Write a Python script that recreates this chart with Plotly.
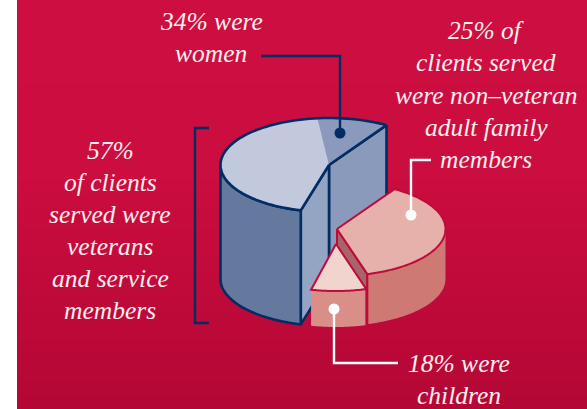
import numpy as np
import plotly.graph_objects as go

# --- data ---
groups = ["Veterans and service members", "Non-veteran adult family members", "Children"]
percent_served = [57, 25, 18]          # drives the extruded height of each piece
drawn_share = [54.7, 36.6, 8.2]        # share of the circle each piece is drawn with
women_drawn_share = 10.6               # tinted part of the veterans piece
text_blocks = [
    (211, [(21, "34% were"), (53, "women")]),
    (486, [(30, "25% of"), (62, "clients served"), (95, "were non–veteran"),
           (127, "adult family"), (159, "members")]),
    (110, [(150, "57%"), (182, "of clients"), (214, "served were"), (246, "veterans"),
           (278, "and service"), (310, "members")]),
    (459, [(363, "18% were"), (395, "children")]),
]

# --- geometry / style ---
W, H = 587, 409
RX, RY = 108.5, 47
BASE_Y = 279
HEIGHT_PER_PCT = 2.0
START_DEG = 58
NAVY = "#012c64"
CRIMSON = "#bf0a3c"
FONT = "Liberation Serif"


def arc(cx, cy, t0, t1, n=80):
    t = np.radians(np.linspace(t0, t1, n))
    return cx + RX * np.cos(t), cy - RY * np.sin(t)


fig = go.Figure()

# page background with its soft vertical gradient
edges = np.linspace(0, H, 60)
centres = (edges[:-1] + edges[1:]) / 2
fig.add_trace(go.Heatmap(
    x=[17, W], y=edges, z=[[v] for v in centres], showscale=False, hoverinfo="skip",
    zmin=0, zmax=H,
    colorscale=[[0, "#cd0e40"], [0.42, "#cb0d3f"], [1, "#b40735"]],
))


def poly(xs, ys, fill=None, color=None, width=0):
    fig.add_trace(go.Scatter(
        x=list(xs), y=list(ys), mode="lines", hoverinfo="skip",
        fill="toself" if fill else "none", fillcolor=fill,
        line=dict(color=color or "rgba(0,0,0,0)", width=width, simplify=False),
    ))


def line(xs, ys, color, width=2.4):
    poly(xs, ys, None, color, width)


def dot(x, y, color, size=11):
    fig.add_trace(go.Scatter(x=[x], y=[y], mode="markers", hoverinfo="skip",
                             marker=dict(color=color, size=size, line=dict(width=0))))


def side(cx, top, h, t0, t1):
    ax, ay = arc(cx, top, t0, t1)
    return np.r_[ax, ax[::-1], ax[0]], np.r_[ay, ay[::-1] + h, ay[0]]


# angles of the three pieces
spans = [s * 3.6 for s in drawn_share]
a0 = START_DEG
a1 = a0 + spans[0]            # veterans: a0 -> a1
a3 = a0 + 360                 # family ends where veterans start
a2 = a3 - spans[1]            # family:   a2 -> a3
ac = a2 - spans[2]            # children: ac -> a2
am = a0 + women_drawn_share * 3.6

heights = [p * HEIGHT_PER_PCT for p in percent_served]

# ---- veterans piece ----
cx, h = 329, heights[0]
top = BASE_Y - h
ex0, ey0 = arc(cx, top, a0, a0, 1)
ex1, ey1 = arc(cx, top, a1, a1, 1)
# back inner face
poly([cx, ex0[0], ex0[0], cx, cx], [top, ey0[0], ey0[0] + h, top + h, top], "#8a9abb", NAVY, 2.6)
# front inner face
poly([ex1[0], cx, cx, ex1[0], ex1[0]], [ey1[0], top, top + h, ey1[0] + h, ey1[0]], "#94a5c4", NAVY, 2.6)
# outer side
sx, sy = side(cx, top, h, 180, a1)
poly(sx, sy, "#65799f", NAVY, 2.6)
# top
tx, ty = arc(cx, top, a0, a1)
poly(np.r_[cx, tx, cx], np.r_[top, ty, top], "#c3c9dd", None, 0)
mx, my = arc(cx, top, a0, am, 30)
poly(np.r_[cx, mx, cx], np.r_[top, my, top], "#8b99bc", None, 0)
line(np.r_[cx, tx, cx], np.r_[top, ty, top], NAVY, 2.6)

# ---- family piece ----
cx, h = 337, heights[1]
top = BASE_Y - h
fx, fy = arc(cx, top, a2, a2, 1)
poly([cx, fx[0], fx[0], cx, cx], [top, fy[0], fy[0] + h, top + h, top], "#a8636b", CRIMSON, 2)
sx, sy = side(cx, top, h, a2, 360)
poly(sx, sy, "#cf7975", None, 0)
line([fx[0], fx[0]], [fy[0], fy[0] + h], CRIMSON, 2)
tx, ty = arc(cx, top, a2, a3)
poly(np.r_[cx, tx, cx], np.r_[top, ty, top], "#e5b1aa", CRIMSON, 2)

# ---- children piece ----
cx, h = 336, heights[2]
top = BASE_Y + 1 - h
sx, sy = side(cx, top, h, ac, a2)
poly(sx, sy, "#d98f88", None, 0)
rx_, ry_ = arc(cx, top, a2, a2, 1)
line([rx_[0], rx_[0]], [ry_[0], ry_[0] + h], CRIMSON, 2)
tx, ty = arc(cx, top, ac, a2, 30)
poly(np.r_[cx, tx, cx], np.r_[top, ty, top], "#f2d4cf", CRIMSON, 2)

# bracket
line([209, 195, 195, 209], [128, 128, 323, 323], NAVY, 2.4)

# leader lines and dots
line([261, 340, 340], [56, 56, 133], NAVY, 2.4)
dot(340, 133, NAVY)
line([431, 411, 411], [160, 160, 215], "white", 2.4)
dot(411, 215, "white")
line([398, 334, 334], [363, 363, 309], "white", 2.4)
dot(334, 309, "white")

annotations = []
for xc, rows in text_blocks:
    for yc, txt in rows:
        annotations.append(dict(
            x=xc, y=yc, xref="x", yref="y", text=f"<i>{txt}</i>", showarrow=False,
            xanchor="center", yanchor="middle",
            font=dict(family=FONT, size=25.5, color="#fbeef0"),
        ))

fig.update_layout(
    width=W, height=H, margin=dict(l=0, r=0, t=0, b=0), showlegend=False,
    paper_bgcolor="white", plot_bgcolor="white",
    xaxis=dict(range=[0, W], visible=False, fixedrange=True),
    yaxis=dict(range=[H, 0], visible=False, fixedrange=True),
    annotations=annotations,
)
fig.write_html("out.html", config={"displayModeBar": False},
               post_script="document.body.style.margin='0';document.documentElement.style.overflow='hidden';")
